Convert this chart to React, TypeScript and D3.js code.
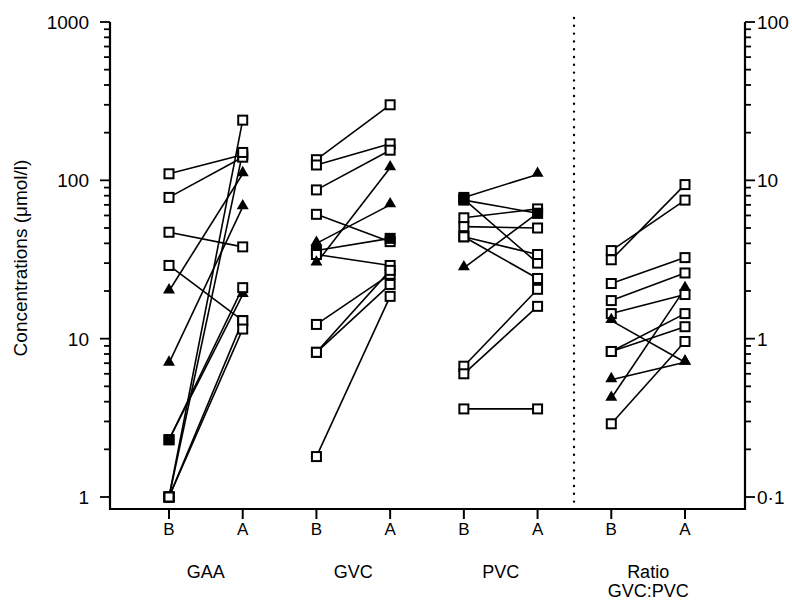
import React, { useEffect, useRef } from "react";
import * as d3 from "d3";

// columns along the x axis
const columns = ["GAA-B", "GAA-A", "GVC-B", "GVC-A", "PVC-B", "PVC-A", "Ratio-B", "Ratio-A"];
const phaseLabels = ["B", "A", "B", "A", "B", "A", "B", "A"];
const groupLabels = ["GAA", "GVC", "PVC", "Ratio"];

// tick labels
const leftTicks = [1, 10, 100, 1000];
const rightTicks = [0.1, 1, 10, 100];
const rightTickText = ["0·1", "1", "10", "100"];

// s = open square, t = filled triangle, f = filled square (overlapping points)
const gaaBefore = [110, 78, 47, 29, 20, 7, 2.3, 2.3, 1, 1, 1, 1];
const gaaAfter = [145, 140, 38, 13, 110, 68, 19, 21, 240, 150, 13, 11.5];
const gaaShapeB = ["s", "s", "s", "s", "t", "t", "f", "f", "s", "s", "s", "s"];
const gaaShapeA = ["s", "s", "s", "s", "t", "t", "t", "s", "s", "s", "s", "s"];

const gvcBefore = [135, 125, 87, 61, 40, 36, 34, 30, 12.3, 8.2, 8.2, 1.8];
const gvcAfter = [300, 170, 155, 41, 70, 43, 29, 120, 25.5, 27, 22, 18.5];
const gvcShapeB = ["s", "s", "s", "s", "t", "f", "s", "t", "s", "s", "s", "s"];
const gvcShapeA = ["s", "s", "s", "s", "t", "f", "s", "t", "s", "s", "s", "s"];

const pvcBefore = [78, 76, 75, 58, 51, 44, 44, 28, 6.7, 6.0, 3.6];
const pvcAfter = [109, 30, 62, 66, 50, 34, 24, 62, 20.5, 16, 3.6];
const pvcShapeB = ["f", "f", "f", "s", "s", "s", "s", "t", "s", "s", "s"];
const pvcShapeA = ["t", "s", "f", "s", "s", "s", "s", "f", "s", "s", "s"];

const ratioBefore = [3.6, 3.15, 2.23, 1.74, 1.44, 1.3, 0.83, 0.83, 0.55, 0.42, 0.29];
const ratioAfter = [7.5, 9.4, 3.25, 2.6, 1.9, 0.71, 1.44, 1.19, 0.71, 2.07, 0.96];
const ratioShape = ["s", "s", "s", "s", "s", "t", "s", "s", "t", "t", "s"];

const font = "'Liberation Sans', Arial, sans-serif";

export default function App() {
  const svgRef = useRef<SVGSVGElement>(null);

  useEffect(() => {
    const svg = d3.select(svgRef.current);
    svg.selectAll("*").remove();

    const left = 110;
    const right = 745;
    const top = 22;
    const bottom = 509;

    const x = d3.scalePoint().domain(columns).range([169, 685]);
    const yL = d3.scaleLog().domain([1, 1000]).range([497, top]);
    const yR = d3.scaleLog().domain([0.1, 100]).range([497, top]);

    const groups = [
      { key: "GAA", b: gaaBefore, a: gaaAfter, sb: gaaShapeB, sa: gaaShapeA, y: yL },
      { key: "GVC", b: gvcBefore, a: gvcAfter, sb: gvcShapeB, sa: gvcShapeA, y: yL },
      { key: "PVC", b: pvcBefore, a: pvcAfter, sb: pvcShapeB, sa: pvcShapeA, y: yL },
      { key: "Ratio", b: ratioBefore, a: ratioAfter, sb: ratioShape, sa: ratioShape, y: yR },
    ];

    // axes frame
    svg.append("path")
      .attr("d", `M${left},${top}V${bottom}H${right}V${top}`)
      .attr("fill", "none")
      .attr("stroke", "#000")
      .attr("stroke-width", 2.2);

    // left ticks
    svg.append("g")
      .selectAll("line")
      .data(yL.ticks())
      .join("line")
      .attr("x1", left)
      .attr("x2", (d) => (leftTicks.includes(d) ? left - 10 : left - 6))
      .attr("y1", (d) => yL(d))
      .attr("y2", (d) => yL(d))
      .attr("stroke", "#000")
      .attr("stroke-width", 1.8);
    svg.append("g")
      .selectAll("text")
      .data(leftTicks)
      .join("text")
      .attr("x", left - 21)
      .attr("y", (d) => yL(d))
      .attr("dy", "0.36em")
      .attr("text-anchor", "end")
      .attr("font-family", font)
      .attr("font-size", 19)
      .text((d) => String(d));

    // right ticks
    svg.append("g")
      .selectAll("line")
      .data(yR.ticks())
      .join("line")
      .attr("x1", right)
      .attr("x2", (d) => (rightTicks.some((t) => Math.abs(t - d) < 1e-9) ? right + 10 : right + 6))
      .attr("y1", (d) => yR(d))
      .attr("y2", (d) => yR(d))
      .attr("stroke", "#000")
      .attr("stroke-width", 1.8);
    svg.append("g")
      .selectAll("text")
      .data(rightTicks)
      .join("text")
      .attr("x", right + 12)
      .attr("y", (d) => yR(d))
      .attr("dy", "0.36em")
      .attr("font-family", font)
      .attr("font-size", 19)
      .text((d, i) => rightTickText[i]);

    // bottom ticks and labels
    svg.append("g")
      .selectAll("line")
      .data(columns)
      .join("line")
      .attr("x1", (d) => x(d)!)
      .attr("x2", (d) => x(d)!)
      .attr("y1", bottom)
      .attr("y2", bottom + 10)
      .attr("stroke", "#000")
      .attr("stroke-width", 2);
    svg.append("g")
      .selectAll("text")
      .data(columns)
      .join("text")
      .attr("x", (d) => x(d)!)
      .attr("y", 535)
      .attr("text-anchor", "middle")
      .attr("font-family", font)
      .attr("font-size", 17)
      .text((d, i) => phaseLabels[i]);
    svg.append("g")
      .selectAll("text")
      .data(groupLabels)
      .join("text")
      .attr("x", (d) => (x(d + "-B")! + x(d + "-A")!) / 2)
      .attr("y", 578)
      .attr("text-anchor", "middle")
      .attr("font-family", font)
      .attr("font-size", 18)
      .text((d) => d);
    svg.append("text")
      .attr("x", (x("Ratio-B")! + x("Ratio-A")!) / 2)
      .attr("y", 597)
      .attr("text-anchor", "middle")
      .attr("font-family", font)
      .attr("font-size", 18)
      .text("GVC:PVC");

    // y title
    svg.append("text")
      .attr("transform", "translate(27,258) rotate(-90)")
      .attr("text-anchor", "middle")
      .attr("font-family", font)
      .attr("font-size", 19)
      .text("Concentrations (μmol/l)");

    // dotted separator
    svg.append("line")
      .attr("x1", 574)
      .attr("x2", 574)
      .attr("y1", 18)
      .attr("y2", bottom)
      .attr("stroke", "#000")
      .attr("stroke-width", 2.4)
      .attr("stroke-linecap", "round")
      .attr("stroke-dasharray", "0 7.8");

    // subject lines, then markers on top
    const lines = svg.append("g");
    const marks = svg.append("g");
    const tri = d3.symbol().type(d3.symbolTriangle).size(62);

    const drawMark = (cx: number, cy: number, s: string) => {
      if (s === "t") {
        marks.append("path")
          .attr("d", tri()!)
          .attr("transform", `translate(${cx},${cy - 1})`)
          .attr("fill", "#000");
      } else {
        marks.append("rect")
          .attr("x", cx - 4.5)
          .attr("y", cy - 4.5)
          .attr("width", 9)
          .attr("height", 9)
          .attr("fill", s === "f" ? "#000" : "#fff")
          .attr("stroke", "#000")
          .attr("stroke-width", 2);
      }
    };

    groups.forEach((grp) => {
      const xb = x(grp.key + "-B")!;
      const xa = x(grp.key + "-A")!;
      grp.b.forEach((v, i) => {
        lines.append("line")
          .attr("x1", xb)
          .attr("y1", grp.y(v))
          .attr("x2", xa)
          .attr("y2", grp.y(grp.a[i]))
          .attr("stroke", "#000")
          .attr("stroke-width", 1.6);
      });
      grp.b.forEach((v, i) => drawMark(xb, grp.y(v), grp.sb[i]));
      grp.a.forEach((v, i) => drawMark(xa, grp.y(v), grp.sa[i]));
    });
  }, []);

  return (
    <svg
      ref={svgRef}
      width={792}
      height={600}
      style={{ position: "absolute", left: 0, top: 0, background: "#fff" }}
    />
  );
}
